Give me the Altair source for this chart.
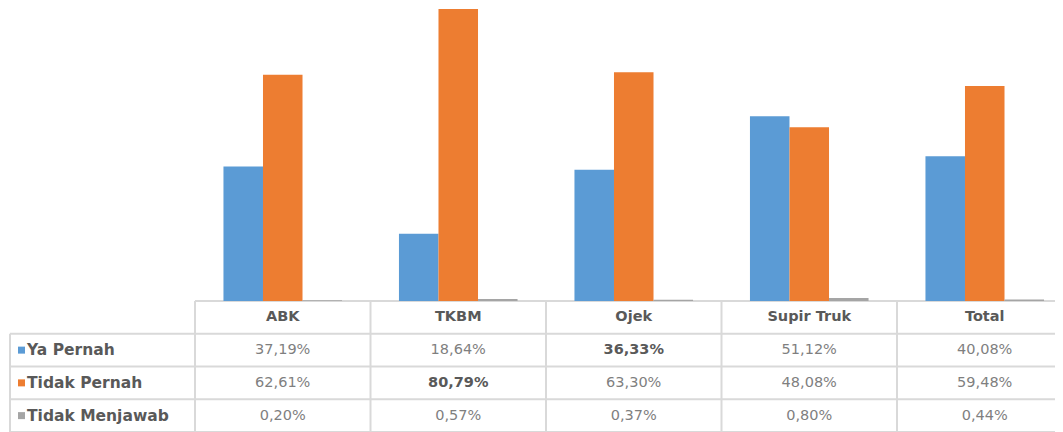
import altair as alt
import pandas as pd

# ---------------- data ----------------
categories = ["ABK", "TKBM", "Ojek", "Supir Truk", "Total"]
series = ["Ya Pernah", "Tidak Pernah", "Tidak Menjawab"]
series_labels = ["Ya  Pernah", "Tidak Pernah", "Tidak Menjawab"]
ya_pernah = [37.19, 18.64, 36.33, 51.12, 40.08]
tidak_pernah = [62.61, 80.79, 63.30, 48.08, 59.48]
tidak_menjawab = [0.20, 0.57, 0.37, 0.80, 0.44]
bold_cells = [("Ya Pernah", "Ojek"), ("Tidak Pernah", "TKBM")]
colors = ["#5b9bd5", "#ed7d31", "#a5a5a5"]

# ---------------- layout constants ----------------
W = 1047          # plot width (page 8 -> 1055)
H = 424           # plot height (page 8 -> 432)
BAR_BOTTOM = 293  # baseline of bars / top of table
COL0 = 187        # left edge of first data column
STEP = 175.5      # data column width
LINE = "#d9d9d9"

values = [ya_pernah, tidak_pernah, tidak_menjawab]
rows = ["header"] + series

bar_df = pd.DataFrame(
    [{"cat": c, "series": s, "value": v[i]}
     for s, v in zip(series, values) for i, c in enumerate(categories)]
)

cell_rows = []
for c in categories:
    cell_rows.append({"cat": c, "row": "header", "text": c, "kind": "header"})
for s, v in zip(series, values):
    for i, c in enumerate(categories):
        txt = f"{v[i]:.2f}".replace(".", ",") + "%"
        kind = "bold" if (s, c) in bold_cells else "normal"
        cell_rows.append({"cat": c, "row": s, "text": txt, "kind": kind})
cell_df = pd.DataFrame(cell_rows)

label_df = pd.DataFrame({"row": series, "label": series_labels})
cat_df = pd.DataFrame({"cat": categories})
rows_df = pd.DataFrame({"row": rows})

x_scale = alt.Scale(domain=categories, range=[COL0, COL0 + STEP * len(categories)],
                    paddingInner=0, paddingOuter=0)
row_scale = alt.Scale(domain=rows, range=[BAR_BOTTOM, H], paddingInner=0, paddingOuter=0)
color_scale = alt.Scale(domain=series, range=colors)

X = alt.X("cat:N", scale=x_scale, axis=None, sort=categories)

bars = alt.Chart(bar_df).mark_bar().encode(
    x=X,
    xOffset=alt.XOffset("series:N", sort=series,
                        scale=alt.Scale(domain=series, paddingInner=0, paddingOuter=0.72)),
    y=alt.Y("value:Q", scale=alt.Scale(domain=[0, 81.07], range=[BAR_BOTTOM, 0], nice=False),
            axis=None),
    color=alt.Color("series:N", scale=color_scale, legend=None),
)

Yrow = alt.Y("row:N", scale=row_scale, axis=None, sort=rows)

# horizontal lines
hline_header = alt.Chart(rows_df).transform_filter(alt.datum.row == "header").mark_rule(
    color=LINE, strokeWidth=2).encode(
    y=alt.Y("row:N", scale=row_scale, axis=None, sort=rows, bandPosition=0),
    x=alt.value(COL0), x2=alt.value(W))
hline_rows = alt.Chart(rows_df).transform_filter(alt.datum.row != "header").mark_rule(
    color=LINE, strokeWidth=2).encode(
    y=alt.Y("row:N", scale=row_scale, axis=None, sort=rows, bandPosition=0),
    x=alt.value(2), x2=alt.value(W))
hline_bottom = alt.Chart(rows_df).transform_filter(alt.datum.row == series[-1]).mark_rule(
    color=LINE, strokeWidth=2).encode(
    y=alt.Y("row:N", scale=row_scale, axis=None, sort=rows, bandPosition=1),
    x=alt.value(2), x2=alt.value(W))

# vertical lines
vlines = alt.Chart(cat_df).mark_rule(color=LINE, strokeWidth=2).encode(
    x=alt.X("cat:N", scale=x_scale, axis=None, sort=categories, bandPosition=0),
    y=alt.value(BAR_BOTTOM), y2=alt.value(H))
vline_left = alt.Chart(rows_df).transform_filter(alt.datum.row == series[0]).mark_rule(
    color=LINE, strokeWidth=2).encode(
    y=alt.Y("row:N", scale=row_scale, axis=None, sort=rows, bandPosition=0),
    y2=alt.value(H), x=alt.value(2))

header_text = alt.Chart(cell_df).transform_filter(alt.datum.kind == "header").mark_text(
    font="DejaVu Sans", fontSize=14.5, fontWeight="bold", color="#595959").encode(
    x=X, y=Yrow, text="text:N")
normal_text = alt.Chart(cell_df).transform_filter(alt.datum.kind == "normal").mark_text(
    font="DejaVu Sans", fontSize=14.5, color="#7f7f7f").encode(
    x=X, y=Yrow, text="text:N")
bold_text = alt.Chart(cell_df).transform_filter(alt.datum.kind == "bold").mark_text(
    font="DejaVu Sans", fontSize=14.5, fontWeight="bold", color="#595959").encode(
    x=X, y=Yrow, text="text:N")

row_labels = alt.Chart(label_df).mark_text(
    font="DejaVu Sans", fontSize=15.5, fontWeight="bold", color="#595959", align="left").encode(
    x=alt.value(19), y=Yrow, text="label:N")
keys = alt.Chart(label_df).mark_square(size=49, opacity=1).encode(
    x=alt.value(13.5), y=Yrow,
    color=alt.Color("row:N", scale=color_scale, legend=None))

chart = alt.layer(
    hline_header, hline_rows, hline_bottom, vlines, vline_left,
    bars, header_text, normal_text, bold_text, row_labels, keys,
).resolve_scale(y="independent").properties(
    width=W, height=H, padding=0,
    autosize=alt.AutoSizeParams(type="none"),
).configure_view(strokeWidth=0)

chart.save("out.html", embed_options={"renderer": "svg", "actions": False})
